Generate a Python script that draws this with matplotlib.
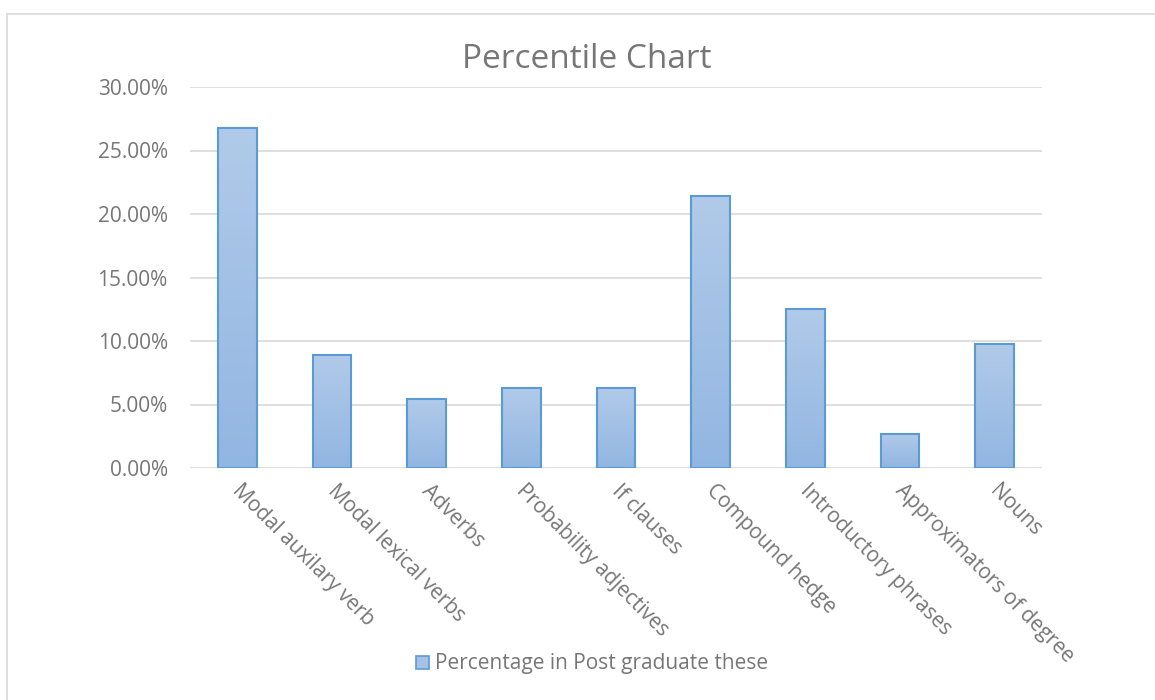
import numpy as np
import matplotlib
matplotlib.use('Agg')
import matplotlib.pyplot as plt
import matplotlib.transforms as mtransforms
from matplotlib.lines import Line2D
from matplotlib.patches import Patch
from matplotlib.ticker import FuncFormatter, MultipleLocator

# Data
categories = ['Modal auxilary verb', 'Modal lexical verbs', 'Adverbs', 'Probability adjectives',
              'If clauses', 'Compound hedge', 'Introductory phrases', 'Approximators of degree', 'Nouns']
values = [26.8, 8.9, 5.4, 6.3, 6.3, 21.4, 12.5, 2.7, 9.8]  # percent
series_name = 'Percentage in Post graduate these'

text_col = '#767676'
edge_col = '#5b9bd5'
plt.rcParams['font.family'] = ['Open Sans', 'DejaVu Sans']

fig = plt.figure(figsize=(11.55, 7), dpi=100)
ax = fig.add_axes([190 / 1155, 1 - 468 / 700, 852 / 1155, 381 / 700])

x = np.arange(len(categories))
bars = ax.bar(x, values, width=0.41, color='none', edgecolor=edge_col, linewidth=1.5, zorder=3)

# gradient fill (light at top, darker at bottom) clipped to each bar
grad = np.linspace(0, 1, 256).reshape(-1, 1)
cmap = matplotlib.colors.LinearSegmentedColormap.from_list('g', ['#92b6e2', '#b1cae9'])
for b in bars:
    im = ax.imshow(grad, cmap=cmap, origin='lower', aspect='auto', zorder=2,
                   extent=[b.get_x(), b.get_x() + b.get_width(), 0, b.get_height()])
    im.set_clip_path(b)

ax.set_xlim(-0.5, len(categories) - 0.5)
ax.set_ylim(0, 30)
ax.yaxis.set_major_locator(MultipleLocator(5))
ax.yaxis.set_major_formatter(FuncFormatter(lambda v, p: f'{v:.2f}%'))
ax.grid(axis='y', color='#d9d9d9', linewidth=1.2, zorder=0)
for s in ax.spines.values():
    s.set_visible(False)
ax.tick_params(axis='both', length=0, labelsize=15, colors=text_col)
ax.tick_params(axis='y', pad=16)
ax.set_xticks(x)
ax.set_xticklabels(categories, rotation=-45, ha='left', va='top', rotation_mode='anchor')
ax.tick_params(axis='x', pad=9)
shift = mtransforms.ScaledTranslation(6 / 100, 0, fig.dpi_scale_trans)
for lbl in ax.get_xticklabels():
    lbl.set_transform(lbl.get_transform() + shift)

fig.text(587 / 1155, 1 - 59 / 700, 'Percentile Chart', ha='center', va='center',
         fontsize=24, color=text_col)

handle = Patch(facecolor='#a5c2e6', edgecolor=edge_col, linewidth=1.2)
fig.legend([handle], [series_name], loc='center', bbox_to_anchor=(592 / 1155, 1 - 664 / 700),
           frameon=False, fontsize=15, labelcolor=text_col, handlelength=0.6, handleheight=0.6,
           handletextpad=0.3)

# chart area border (top and left edges visible)
fig.add_artist(Line2D([7 / 1155, 7 / 1155], [0, 1 - 14 / 700], transform=fig.transFigure,
                      color='#d9d9d9', linewidth=1.2))
fig.add_artist(Line2D([7 / 1155, 1], [1 - 14 / 700, 1 - 14 / 700], transform=fig.transFigure,
                      color='#d9d9d9', linewidth=1.2))

fig.savefig('out.png', dpi=100)
